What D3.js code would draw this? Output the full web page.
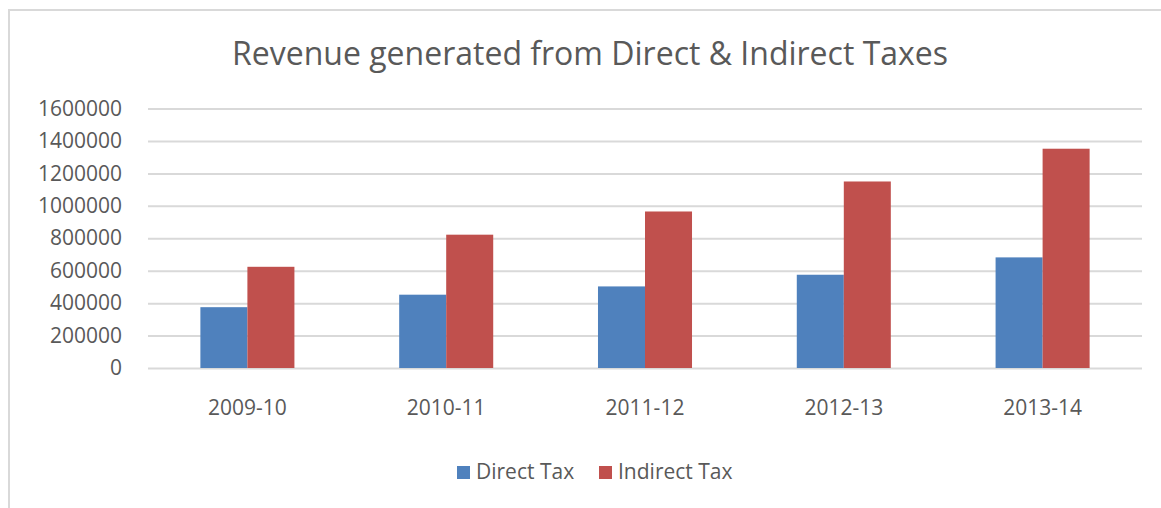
<!DOCTYPE html>
<html>
<head>
<meta charset="utf-8">
<script src="https://cdn.jsdelivr.net/npm/d3@7"></script>
<style>
  body { margin: 0; background: #fff; }
  text { font-family: 'Open Sans', sans-serif; fill: #595959; }
</style>
</head>
<body>
<div id="chart"></div>
<script>
const categories = ['2009-10', '2010-11', '2011-12', '2012-13', '2013-14']
const seriesNames = ['Direct Tax', 'Indirect Tax']
const directTax = [375000, 452000, 503000, 575000, 682000]
const indirectTax = [624000, 822000, 965000, 1150000, 1352000]
const yTicks = [0, 200000, 400000, 600000, 800000, 1000000, 1200000, 1400000, 1600000]

const segColor = ['#4f81bd', '#c0504d']
const width = 1161
const height = 508
const margin = { left: 148, right: 19, top: 108.5, bottom: 140 }
const plotW = width - margin.left - margin.right
const plotH = height - margin.top - margin.bottom

const svg = d3.select('#chart').append('svg')
  .attr('width', width)
  .attr('height', height)

// chart frame
svg.append('rect')
  .attr('x', 9).attr('y', 10)
  .attr('width', width + 20).attr('height', height + 20)
  .attr('fill', 'none')
  .attr('stroke', '#d9d9d9')
  .attr('stroke-width', 2)

svg.append('text')
  .attr('x', 590).attr('y', 65)
  .attr('text-anchor', 'middle')
  .style('font-size', '32px')
  .text('Revenue generated from Direct & Indirect Taxes')

const g = svg.append('g')
  .attr('transform', 'translate(' + margin.left + ',' + margin.top + ')')

const x0 = d3.scaleBand()
  .domain(categories)
  .range([0, plotW])
  .paddingInner(0.527)
  .paddingOuter(0.2635)

const x1 = d3.scaleBand()
  .domain(seriesNames)
  .range([0, x0.bandwidth()])

const y = d3.scaleLinear()
  .domain([0, 1600000])
  .range([plotH, 0])

// gridlines + y labels
const yAxis = g.append('g')
  .call(d3.axisLeft(y).tickValues(yTicks).tickFormat(d3.format('d')).tickSize(-plotW).tickPadding(26))
yAxis.select('.domain').remove()
yAxis.selectAll('line').attr('stroke', '#d9d9d9').attr('stroke-width', 2)
yAxis.selectAll('text').style('font-size', '21px').attr('fill', '#595959')

// x labels
const xAxis = g.append('g')
  .attr('transform', 'translate(0,' + plotH + ')')
  .call(d3.axisBottom(x0).tickSize(0).tickPadding(32))
xAxis.select('.domain').remove()
xAxis.selectAll('text').style('font-size', '21px').attr('fill', '#595959')

// bars
const rows = categories.map((c, i) => ({ cat: c, values: [directTax[i], indirectTax[i]] }))
const group = g.selectAll('.grp')
  .data(rows)
  .enter().append('g')
  .attr('class', 'grp')
  .attr('transform', d => 'translate(' + x0(d.cat) + ',0)')

group.selectAll('rect')
  .data(d => d.values.map((v, j) => ({ name: seriesNames[j], value: v, j: j })))
  .enter().append('rect')
  .attr('x', d => x1(d.name))
  .attr('y', d => y(d.value))
  .attr('width', x1.bandwidth())
  .attr('height', d => plotH - y(d.value))
  .attr('fill', d => segColor[d.j])

// legend
const legendX = [457, 599]
const legend = svg.selectAll('.legend')
  .data(seriesNames)
  .enter().append('g')
  .attr('class', 'legend')
  .attr('transform', (d, i) => 'translate(' + legendX[i] + ',466)')

legend.append('rect')
  .attr('width', 13).attr('height', 13)
  .attr('fill', (d, i) => segColor[i])

legend.append('text')
  .attr('x', 19).attr('y', 13)
  .style('font-size', '21px')
  .text(d => d)
</script>
</body>
</html>
